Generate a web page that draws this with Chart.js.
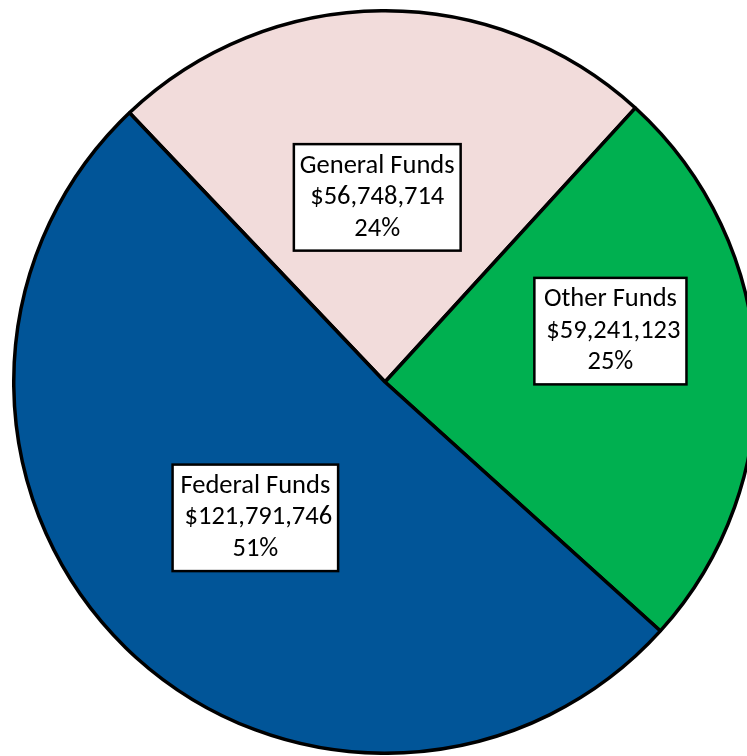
<!DOCTYPE html>
<html>
<head>
<meta charset="utf-8">
<script src="https://cdn.jsdelivr.net/npm/chart.js@4.4.1/dist/chart.umd.min.js"></script>
<style>
    html, body { margin: 0; padding: 0; background: #fff; overflow: hidden; width: 747px; height: 756px; }
    #wrap { position: absolute; left: 12px; top: 9px; width: 746px; height: 746px; }
</style>
</head>
<body>
<div id="wrap"><canvas id="fundsChart" width="746" height="746"></canvas></div>
<script>
// Funding sources pie
const categories = ['General Funds', 'Other Funds', 'Federal Funds'];
const amounts = [56748714, 59241123, 121791746];
const amountLabels = ['$56,748,714', ' $59,241,123', ' $121,791,746'];
const percentLabels = ['24%', '25%', '51%'];
const sliceColors = ['#F2DCDB', '#00B050', '#015598'];

// label box nudges from the slice centre point (px)
const labelShift = [[-6, 1], [40, -42], [0, 3]];

const boxLabels = {
    id: 'boxLabels',
    afterDatasetsDraw(chart) {
        const ctx = chart.ctx;
        const meta = chart.getDatasetMeta(0);
        const lineH = 31.5;
        ctx.save();
        ctx.font = '26.5px Carlito, Lato, "Open Sans", sans-serif';
        ctx.textAlign = 'center';
        ctx.textBaseline = 'middle';
        meta.data.forEach((arc, i) => {
            const p = arc.getCenterPoint();
            const cx = p.x + labelShift[i][0];
            const cy = p.y + labelShift[i][1];
            const lines = [categories[i], amountLabels[i], percentLabels[i]];
            const w = Math.max(...lines.map(t => ctx.measureText(t).width)) + 12;
            const h = lineH * 3 + 12;
            ctx.fillStyle = '#fff';
            ctx.fillRect(cx - w / 2, cy - h / 2, w, h);
            ctx.lineWidth = 2.5;
            ctx.strokeStyle = '#000';
            ctx.strokeRect(cx - w / 2, cy - h / 2, w, h);
            ctx.fillStyle = '#000';
            lines.forEach((t, j) => {
                ctx.fillText(t, cx, cy + (j - 1) * lineH);
            });
        });
        ctx.restore();
    }
};

const ctx = document.getElementById('fundsChart').getContext('2d');
new Chart(ctx, {
    type: 'pie',
    data: {
        labels: categories,
        datasets: [{
            data: amounts,
            backgroundColor: sliceColors,
            borderColor: '#000',
            borderWidth: 3.5
        }]
    },
    options: {
        responsive: false,
        animation: false,
        rotation: -43.5,
        plugins: {
            legend: { display: false },
            tooltip: { enabled: false }
        }
    },
    plugins: [boxLabels]
});
</script>
</body>
</html>
